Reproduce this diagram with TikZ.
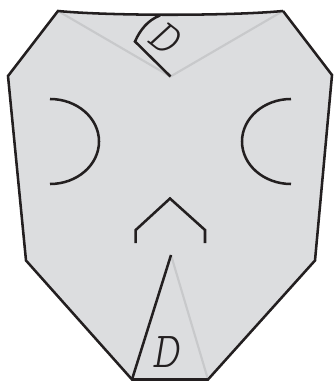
\documentclass[tikz,border=0pt]{standalone}
\usepackage{fontspec}
\definecolor{paper}{HTML}{DCDDDF}
\definecolor{foldc}{HTML}{C8C9CB}
\definecolor{inkc}{HTML}{231F20}
\begin{document}
\begin{tikzpicture}[x=0.75pt,y=-0.75pt,
  outl/.style={draw=inkc,line width=1.9pt,line join=miter},
  fold/.style={draw=foldc,line width=1.6pt},
  lab/.style={font=\ttfamily\fontseries{l}\itshape,text=inkc,inner sep=0pt}]
\useasboundingbox (0,0) rectangle (333,381);
\coordinate (a) at (58,11);
\coordinate (b) at (8,76);
\coordinate (c) at (26,260.5);
\coordinate (d) at (132,379.5);
\coordinate (e) at (208,379.5);
\coordinate (f) at (315,260.5);
\coordinate (g) at (332,75);
\coordinate (h) at (283,11);
\coordinate (m) at (170.5,76.5);
\coordinate (n) at (171,255);
\fill[paper] (a) .. controls (110,16) and (230,16) .. (h) -- (g) -- (f) -- (e) -- (d) -- (c) -- (b) -- cycle;
\draw[fold] (a) -- (m) -- (h);
\draw[fold] (n) -- (e);
\draw[outl] (h) -- (g) -- (f) -- (e) -- (d) -- (c) -- (b) -- (a) .. controls (110,16) and (230,16) .. (h);
\draw[outl] (n) -- (d);
\draw[outl] (m) -- (135,41.5) .. controls (140,30) and (148,20) .. (160,15.5);
\draw[outl] (50,99) arc[start angle=-90,end angle=90,x radius=49,y radius=42.5];
\draw[outl] (291,99) arc[start angle=-90,end angle=-270,x radius=49,y radius=42.5];
\draw[outl] (135.7,243) -- (135.7,230) -- (170,198.5) -- (205,230) -- (205,243);
\node[lab,rotate=-38] (dtop) at (165,38) {\fontsize{35}{35}\selectfont D};
\node[lab] (dbot) at (166,352) {\fontsize{38}{38}\selectfont D};
\end{tikzpicture}
\end{document}
